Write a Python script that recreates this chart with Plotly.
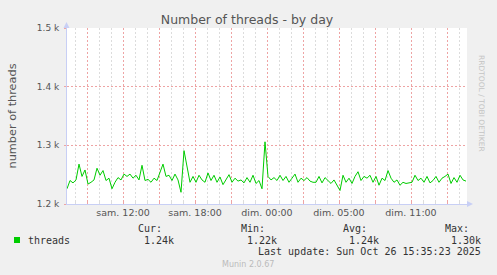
import plotly.graph_objects as go
import pandas as pd

# ---- data ----
start_time = "2025-10-25 07:20"
step = "15min"
threads = [
    1226, 1240, 1236, 1241, 1268, 1247, 1258, 1234, 1237, 1241,
    1261, 1249, 1257, 1240, 1244, 1226, 1237, 1245, 1241, 1251,
    1247, 1251, 1244, 1249, 1241, 1266, 1240, 1242, 1237, 1244,
    1240, 1255, 1268, 1247, 1249, 1240, 1251, 1241, 1220, 1291,
    1262, 1237, 1247, 1237, 1249, 1241, 1237, 1253, 1240, 1249,
    1237, 1246, 1233, 1241, 1250, 1237, 1244, 1239, 1241, 1236,
    1245, 1237, 1249, 1235, 1240, 1226, 1306, 1247, 1241, 1245,
    1240, 1249, 1240, 1247, 1237, 1244, 1251, 1237, 1244, 1240,
    1245, 1239, 1237, 1237, 1247, 1236, 1245, 1240, 1235, 1241,
    1232, 1223, 1249, 1237, 1244, 1235, 1247, 1255, 1240, 1247,
    1244, 1249, 1237, 1247, 1232, 1244, 1240, 1257, 1244, 1237,
    1241, 1232, 1237, 1235, 1236, 1237, 1249, 1240, 1244, 1237,
    1247, 1236, 1240, 1247, 1237, 1244, 1247, 1251, 1235, 1245,
    1237, 1249, 1241, 1239,
]
x_range = ["2025-10-25 07:20", "2025-10-26 16:40"]
tick_vals = ["2025-10-25 09:00", "2025-10-25 12:00", "2025-10-25 15:00",
             "2025-10-25 18:00", "2025-10-25 21:00", "2025-10-26 00:00",
             "2025-10-26 03:00", "2025-10-26 06:00", "2025-10-26 09:00",
             "2025-10-26 12:00", "2025-10-26 15:00"]
tick_text = ["", "sam. 12:00", "", "sam. 18:00", "", "dim. 00:00",
             "", "dim. 05:00", "", "dim. 11:00", ""]
y_vals = [1200, 1300, 1400, 1500]
y_text = ["1.2 k", "1.3 k", "1.4 k", "1.5 k"]
stat_labels = ["Cur:", "Min:", "Avg:", "Max:"]
stat_values = ["1.24k", "1.22k", "1.24k", "1.30k"]
series_name = "threads"
title = "Number of threads - by day"
y_title = "number of threads"
last_update = "Last update: Sun Oct 26 15:35:23 2025"
footer = "Munin 2.0.67"
side_text = "RRDTOOL / TOBI OETIKER"

times = pd.date_range(start=start_time, periods=len(threads), freq=step)
hours = pd.date_range("2025-10-25 08:00", "2025-10-26 16:00", freq="1h")
minor_vals = [h for h in hours if h.hour % 3 != 0]

W, H = 497, 275
ML, MR, MT, MB = 67, 30, 28, 71
PW, PH = W - ML - MR, H - MT - MB


def px(xp):
    return (xp - ML) / PW


def py(yp):
    return (H - MB - yp) / PH


GREEN = "#00cc00"
MAJ = "#eea4a4"
MIN = "#dcdcdc"
AXIS = "#c8cff5"
TXT = "#555555"
DOT = "2px,2px"
MONO = "DejaVu Sans Mono, monospace"
SANS = "DejaVu Sans, sans-serif"

fig = go.Figure()
fig.add_trace(go.Scatter(x=times, y=threads, mode="lines",
                         line=dict(color=GREEN, width=1), name=series_name,
                         showlegend=False, hoverinfo="skip"))

fig.update_layout(
    width=W, height=H,
    margin=dict(l=ML, r=MR, t=MT, b=MB, pad=0),
    paper_bgcolor="#f0f0f0", plot_bgcolor="#ffffff",
    showlegend=False,
    title=dict(text=title, x=0.497, xanchor="center", y=1 - 20 / H,
               yanchor="middle", font=dict(family=SANS, size=12.5, color=TXT)),
)

fig.update_xaxes(
    type="date", range=x_range,
    tickmode="array", tickvals=tick_vals, ticktext=tick_text,
    tickfont=dict(family=SANS, size=9.5, color=TXT),
    showgrid=True, gridcolor=MAJ, griddash=DOT, gridwidth=1,
    ticks="inside", ticklen=3, tickcolor=MAJ,
    showline=True, linecolor=AXIS, linewidth=1,
    zeroline=False,
    minor=dict(tickmode="array", tickvals=minor_vals,
               showgrid=True, gridcolor=MIN, griddash=DOT, gridwidth=1,
               ticks="inside", ticklen=2, tickcolor=MIN),
    fixedrange=True,
)
fig.update_yaxes(
    range=[1200, 1500], tickmode="array", tickvals=y_vals, ticktext=y_text,
    tickfont=dict(family=SANS, size=9, color=TXT),
    showgrid=True, gridcolor=MAJ, griddash=DOT, gridwidth=1,
    ticks="outside", ticklen=2, tickcolor=MAJ,
    showline=True, linecolor=AXIS, linewidth=1,
    zeroline=False, ticklabelstandoff=3,
    title=dict(text=y_title, font=dict(family=SANS, size=11.3, color=TXT),
               standoff=17),
    fixedrange=True,
)

# axis arrows
fig.add_shape(type="path", xref="paper", yref="paper",
              path=f"M {px(63.5)} {py(28)} L {px(69.5)} {py(28)} L {px(66.5)} {py(22)} Z",
              fillcolor=AXIS, line=dict(width=0))
fig.add_shape(type="path", xref="paper", yref="paper",
              path=f"M {px(467)} {py(201)} L {px(467)} {py(207)} L {px(473)} {py(204)} Z",
              fillcolor=AXIS, line=dict(width=0))
fig.add_shape(type="line", xref="paper", yref="paper",
              x0=1, x1=px(468), y0=0, y1=0, line=dict(color=AXIS, width=1))

annos = []
annos.append(dict(text=side_text, x=px(488), y=py(53), xref="paper", yref="paper",
                  showarrow=False, textangle=90,
                  font=dict(family=SANS, size=7.5, color="#c4c4c4")))
fig.add_shape(type="rect", xref="paper", yref="paper",
              x0=px(14), x1=px(20), y0=py(243), y1=py(237),
              fillcolor=GREEN, line=dict(width=0))
annos.append(dict(text=series_name, x=px(26), y=py(240), xref="paper", yref="paper",
                  xanchor="left", yanchor="middle", showarrow=False,
                  font=dict(family=MONO, size=10, color="#333333")))
label_right = [163.5, 266.5, 369, 470.5]
value_right = [176, 279, 381, 483]
for lab, val, lr, vr in zip(stat_labels, stat_values, label_right, value_right):
    annos.append(dict(text=lab, x=px(lr), y=py(228.3), xref="paper", yref="paper",
                      xanchor="right", yanchor="middle", showarrow=False,
                      font=dict(family=MONO, size=10, color="#333333")))
    annos.append(dict(text=val, x=px(vr), y=py(240), xref="paper", yref="paper",
                      xanchor="right", yanchor="middle", showarrow=False,
                      font=dict(family=MONO, size=10, color="#333333")))
annos.append(dict(text=last_update, x=px(483), y=py(251.7), xref="paper", yref="paper",
                  xanchor="right", yanchor="middle", showarrow=False,
                  font=dict(family=MONO, size=10, color="#333333")))
annos.append(dict(text=footer, x=px(248), y=py(264), xref="paper", yref="paper",
                  xanchor="center", yanchor="middle", showarrow=False,
                  font=dict(family=SANS, size=8, color="#bbbbbb")))
fig.update_layout(annotations=annos)

fig.write_html("out.html", config=dict(displayModeBar=False, staticPlot=True))
